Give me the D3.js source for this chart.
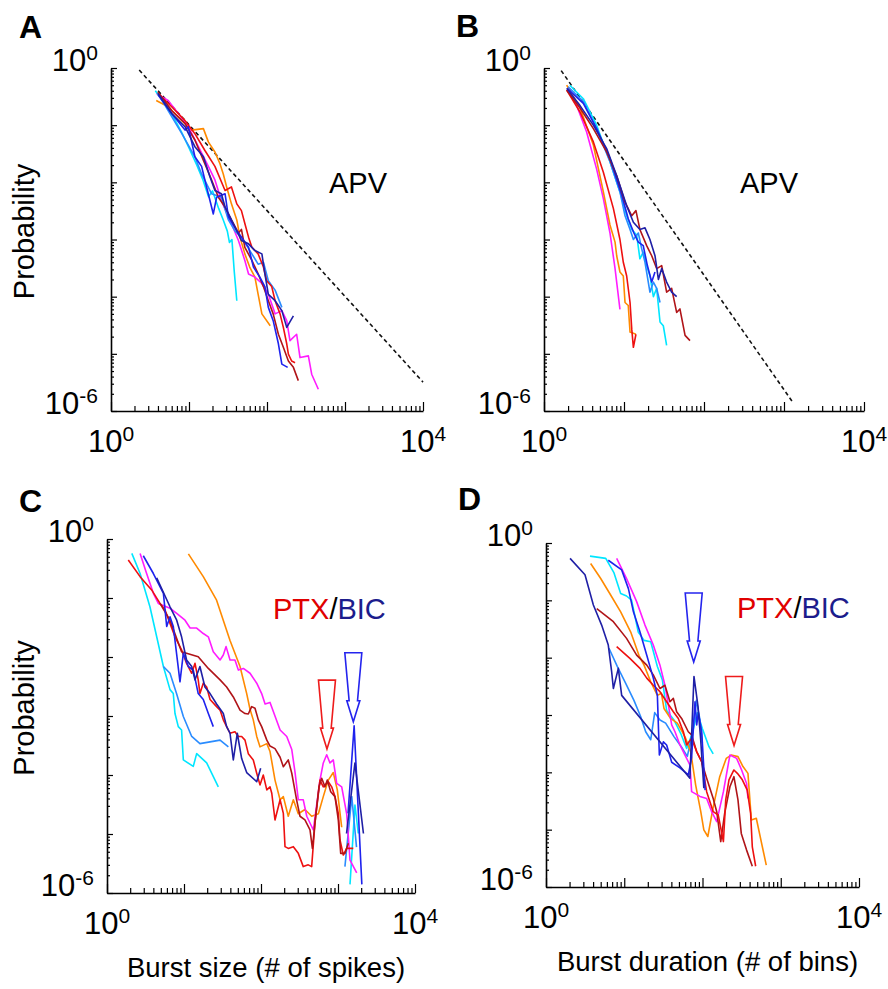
<!DOCTYPE html>
<html>
<head>
<meta charset="utf-8">
<script src="https://cdn.jsdelivr.net/npm/d3@7/dist/d3.min.js"></script>
<style>
body { margin: 0; background: #fff; }
text { font-family: "Liberation Sans", Arial, Helvetica, sans-serif; fill: #000; }
</style>
</head>
<body>
<script>
// ---- data: [value, probability] ----

// A: burst size, APV
var sizeApvCyan = [[3.7,0.40],[4.9,0.24],[6.3,0.14],[7.9,0.079],[10,0.040],[12.6,0.020],[15.1,0.011],[17.8,0.0056],[20,0.0071],[24,0.0035],[27.5,0.0022],[31,0.0014],[33,0.00089],[35.5,0.0010],[38,0.00028],[41,0.000085]];
var sizeApvLightBlue = [[4.0,0.36],[5.4,0.18],[8.1,0.071],[11.9,0.028],[14.5,0.014],[19.5,0.0063],[26,0.0055],[32,0.0022],[39,0.0014],[47,0.0011],[64,0.00056],[77,0.00037],[90,0.0004],[104,0.00019],[127,0.00013],[155,0.000065]];
var sizeApvBlue = [[4.0,0.34],[6.0,0.16],[8.9,0.082],[9.8,0.094],[11.9,0.028],[14.5,0.019],[16.8,0.0083],[20.5,0.0028],[22.6,0.0055],[29,0.0063],[32,0.0025],[39,0.0016],[47,0.0011],[58,0.00073],[67,0.00033],[81,0.00022],[94,0.00015],[104,0.000065],[120,0.000038],[140,0.000015],[155,0.0000066],[184,0.0000058]];
var sizeApvNavy = [[4.0,0.36],[6.0,0.16],[8.9,0.094],[11.9,0.042],[15.3,0.028],[18.6,0.0124],[21.5,0.0072],[26,0.0063],[29,0.0037],[35,0.0022],[47,0.00096],[58,0.00084],[70,0.00064],[86,0.00056],[94,0.00025],[104,0.00011],[127,0.000085],[155,0.000057],[179,0.000029],[218,0.000046]];
var sizeApvMagenta = [[3.8,0.36],[5.4,0.27],[7.3,0.16],[9.8,0.094],[13.2,0.042],[17.7,0.019],[21.5,0.011],[26,0.0048],[35,0.0019],[43,0.00096],[52,0.00043],[58,0.00025],[70,0.00022],[86,0.00017],[104,0.00011],[127,0.00005],[155,0.000057],[179,0.000038],[197,0.000017],[240,0.000022],[265,0.0000086],[339,0.0000092],[374,0.0000044],[455,0.0000024]];
var sizeApvRed = [[4.0,0.36],[6.0,0.21],[8.9,0.12],[11.9,0.071],[16,0.036],[21.5,0.019],[29,0.0072],[35,0.0083],[41,0.0042],[47,0.0032],[52,0.0019],[58,0.0011],[64,0.00073],[77,0.00056],[90,0.00033],[99,0.00019],[115,0.00015],[127,0.000085],[147,0.00005],[162,0.000029],[179,0.000015],[188,0.0000099],[207,0.0000075],[229,0.000007]];
var sizeApvDarkRed = [[4.0,0.38],[6.0,0.18],[8.9,0.107],[11.9,0.055],[16,0.021],[19.5,0.011],[23.8,0.0055],[29,0.0037],[35,0.0022],[43,0.0013],[47,0.0015],[52,0.00073],[64,0.00043],[77,0.00025],[90,0.00015],[104,0.000085],[120,0.00005],[140,0.000022],[162,0.000013],[188,0.0000075],[218,0.0000058],[252,0.0000034]];
var sizeApvOrange = [[3.8,0.27],[5.4,0.21],[8.1,0.12],[10.8,0.082],[15.3,0.087],[17.7,0.051],[21.5,0.034],[25,0.021],[27.5,0.014],[30.4,0.0083],[35,0.0042],[41,0.0022],[45,0.0011],[52,0.00056],[60,0.00033],[70,0.00022],[77,0.00011],[86,0.00005],[110,0.000031]];
var sizeApvSlope = [[2.3,0.92],[10000,0.0000032]];

// B: burst duration, APV
var durApvMagenta = [[2.0,0.47],[2.56,0.22],[3.41,0.076],[4.55,0.017],[5.52,0.0052],[6.68,0.0013],[7.73,0.00031],[8.9,0.00006]];
var durApvOrange = [[1.92,0.50],[2.82,0.20],[4.14,0.045],[5.52,0.0068],[6.68,0.0018],[7.73,0.0009],[8.1,0.00052],[8.9,0.00027],[9.8,0.00023],[10.3,0.000079],[11.3,0.00007],[11.9,0.000024],[14.1,0.000022]];
var durApvRed = [[1.92,0.41],[2.82,0.17],[4.14,0.051],[5.52,0.015],[7.36,0.0035],[8.9,0.001],[9.8,0.0004],[10.8,0.00023],[11.9,0.000079],[12.5,0.000027],[13.1,0.000013],[14.1,0.000022]];
var durApvCyan = [[2.1,0.50],[3.1,0.29],[4.55,0.10],[6.68,0.023],[8.9,0.0068],[10.8,0.0026],[12.5,0.0015],[14.4,0.0012],[15.8,0.00046],[17.4,0.0006],[19.2,0.00035],[21.1,0.00023],[23.3,0.0001],[25.6,0.00014],[28.2,0.000036],[31,0.000031],[34.1,0.000014]];
var durApvLightBlue = [[2.0,0.47],[3.1,0.26],[4.55,0.087],[6.68,0.023],[8.9,0.0068],[10.3,0.0026],[11.9,0.0015],[13.1,0.001],[15.1,0.0013],[16.6,0.0007],[18.3,0.0004],[21.1,0.00012],[23.3,0.00018],[25.6,0.00014],[28.2,0.000079]];
var durApvBlue = [[1.95,0.44],[3.1,0.24],[4.55,0.087],[6.68,0.026],[9.4,0.0059],[11.3,0.0023],[13.3,0.0013],[15.1,0.0009],[17.4,0.00078],[19.6,0.00035],[22.2,0.00018],[24.4,0.00027]];
var durApvNavy = [[1.92,0.44],[2.82,0.22],[4.14,0.10],[6.07,0.039],[8.1,0.013],[10.8,0.0039],[13.1,0.002],[15.8,0.0015],[18.3,0.0016],[21.1,0.001],[24.4,0.00052],[26.9,0.0002],[29.6,0.00031],[34.1,0.00018],[39.4,0.00012],[45.5,0.0001]];
var durApvDarkRed = [[1.92,0.41],[2.82,0.20],[4.14,0.087],[6.07,0.034],[8.1,0.013],[10.3,0.0045],[12.5,0.0026],[14.1,0.0032],[15.8,0.0015],[19.2,0.00078],[22.2,0.00052],[25.6,0.00031],[29.6,0.00035],[34.1,0.00012],[39.4,0.00014],[45.5,0.000053],[50,0.000061],[58,0.000021],[66.8,0.000017]];
var durApvSlope = [[1.64,0.9],[1310,0.00000137]];

// C: burst size, PTX/BIC (peak arrays are the separate pieces near the arrows)
var sizePtxCyan = [[2.1,0.57],[2.69,0.26],[3.61,0.071],[4.42,0.022],[5.4,0.0069],[6.58,0.0028],[7.26,0.0024],[7.64,0.0011],[8.43,0.00066],[9.3,0.00058],[9.8,0.00018],[13.2,0.00014],[14.6,0.00023],[19.7,0.00016],[27.9,0.000063]];
var sizePtxCyanPeak = [[1432,0.0000014],[1660,0.000031],[1836,0.0000102]];
var sizePtxLightBlue = [[5.4,0.0069],[6.58,0.0053],[8.0,0.0024],[9.8,0.00098],[12.6,0.00045],[16.1,0.00034],[29.4,0.00039],[37.7,0.0003]];
var sizePtxLightBluePeak = [[1230,0.0000028],[1510,0.000043],[1740,0.000006]];
var sizePtxBlue = [[2.96,0.52],[4.0,0.26],[5.4,0.12],[5.96,0.033],[6.58,0.048],[7.26,0.033],[8.87,0.0038],[9.8,0.0115],[11.4,0.0069],[13.2,0.006],[15.3,0.0024],[17.8,0.0019],[20.7,0.0011],[24,0.00066]];
var sizePtxBluePeak = [[1350,0.0000224],[1620,0.00068],[2040,0.0000014]];
var sizePtxNavy = [[4.42,0.22],[6.58,0.071],[8.04,0.042],[9.3,0.022],[10.8,0.0089],[12.6,0.0069],[13.9,0.0041],[16.1,0.0069],[18.7,0.0031],[21.8,0.0024],[26.5,0.0016],[32.4,0.0011],[35.8,0.00066],[39.6,0.00051],[43.7,0.00018],[49.2,0.00051],[56.1,0.00019],[65.2,0.00011],[88,0.000077],[99,0.00013]];
var sizePtxNavyPeak = [[1290,0.0000102],[1660,0.00016],[2140,0.0000102]];
var sizePtxMagenta = [[2.69,0.57],[3.27,0.26],[4.0,0.12],[4.64,0.081],[6.58,0.067],[8.04,0.055],[10.3,0.042],[12,0.031],[14.6,0.031],[17.8,0.025],[20.7,0.022],[24,0.0123],[29.4,0.0089],[32.4,0.0108],[35.2,0.015],[39.6,0.0089],[45.9,0.0089],[50.8,0.006],[59,0.0064],[72,0.0053],[88,0.0036],[102,0.0024],[113,0.0016],[131,0.0017],[177,0.00058],[216,0.00045],[251,0.00027],[277,0.00011],[305,0.000038],[354,0.000038],[393,0.00002],[478,0.0000117],[583,0.000082],[644,0.00016],[713,0.00022],[787,0.00016],[869,0.00018],[962,0.000072],[1117,0.000063],[1297,0.000022],[1432,0.0000036],[1750,0.0000022]];
var sizePtxOrange = [[11.4,0.56],[17.8,0.23],[26.5,0.092],[39.6,0.019],[53.4,0.0069],[65.2,0.0024],[72,0.0013],[79.4,0.00086],[88,0.00045],[97,0.0003],[119,0.00034],[131,0.00025],[152,0.000082],[177,0.000038],[195,0.000043],[226,0.00002],[263,0.000038],[305,0.000022],[372,0.000026],[455,0.00002],[556,0.000022],[644,0.000043],[748,0.000082],[869,0.00011],[979,0.000056],[1117,0.000013]];
var sizePtxRed = [[1.89,0.44],[2.69,0.23],[3.8,0.137],[4.88,0.081],[5.66,0.063],[6.58,0.037],[7.64,0.022],[9.3,0.0132],[10.8,0.0078],[12.6,0.0053],[13.9,0.0078],[15.3,0.0041],[16.1,0.0024],[17.8,0.0036],[19.7,0.0031],[21.8,0.0019],[26.5,0.00144],[29.4,0.00126],[32.4,0.00086],[35.8,0.00066],[39.6,0.00051],[45.9,0.00054],[50.8,0.00045],[56.1,0.00045],[62,0.00039],[68.4,0.00023],[79.4,0.00018],[88,0.000107],[97,0.000068],[107,0.0001],[119,0.000056],[131,0.000063],[138,0.000049],[152,0.0000173],[177,0.000038],[195,0.0000224],[205,0.0000061],[226,0.0000057],[263,0.0000061],[305,0.0000047],[354,0.0000028],[411,0.000003],[455,0.0000028],[502,0.0000152],[583,0.000082],[644,0.000063],[748,0.000077],[828,0.000063],[914,0.000043],[1009,0.0000224],[1062,0.0000079],[1172,0.0000044],[1297,0.0000057],[1581,0.0000057]];
var sizePtxDarkRed = [[4.88,0.081],[6.58,0.042],[9.3,0.0123],[15.3,0.0101],[20.7,0.0064],[29.4,0.0041],[35.8,0.0031],[43.7,0.0021],[53.4,0.00126],[62,0.0011],[68.4,0.00108],[75.7,0.00144],[83.6,0.00135],[92.3,0.00086],[102,0.00066],[119,0.00039],[131,0.00031],[152,0.00028],[177,0.0002],[195,0.000138],[226,0.00018],[251,0.000107],[290,0.000038],[321,0.00002],[372,0.0000173],[433,0.0000117],[465,0.0000057],[513,0.00002],[566,0.000063],[614,0.000088],[678,0.000063],[726,0.000082],[804,0.000052],[914,0.000043],[1009,0.0000173],[1084,0.0000047],[1233,0.0000047],[1362,0.000007]];

// D: burst duration, PTX/BIC
var durPtxNavy = [[2.03,0.54],[3.15,0.28],[4.03,0.083],[5.14,0.037],[6.25,0.0166],[6.9,0.0057],[7.26,0.0029],[8.4,0.0065],[9.27,0.0022],[69,0.000079],[77.8,0.0047],[87.7,0.0014],[94.8,0.00037],[104,0.000053]];
var durPtxBlue = [[6.25,0.50],[9.27,0.34],[11.3,0.16],[13.1,0.063],[15.9,0.028],[19.4,0.011],[23.5,0.0044],[26.5,0.0022],[28.1,0.0002],[31.6,0.00034],[34.8,0.0003],[40.4,0.00015],[51.5,0.00012],[65.9,0.00009],[72.6,0.00018],[80.2,0.0017],[84.3,0.00067],[88.5,0.0011],[97.7,0.00051],[108,0.000049]];
var durPtxLightBlue = [[6.38,0.0146],[8.17,0.007],[10.4,0.0036],[13.3,0.0018],[16.2,0.00094],[18.8,0.00051],[21.8,0.00037],[24.5,0.0011],[28.6,0.00082],[33.8,0.00072],[43.2,0.00042],[53.6,0.00028],[64,0.00019],[74.1,0.00048],[83.4,0.0018],[92.9,0.00082],[99.5,0.00032]];
var durPtxCyan = [[3.65,0.59],[5.8,0.54],[7.4,0.30],[9.0,0.132],[10.7,0.119],[12.4,0.101],[15.1,0.028],[17.9,0.02],[21.8,0.019],[26.5,0.007],[30.7,0.0041],[34.8,0.0012],[43.2,0.00082],[52.6,0.00048],[62.7,0.00026],[74.1,0.00048],[85.9,0.0011],[99.5,0.00058],[121,0.00028],[137,0.00021]];
var durPtxMagenta = [[8.0,0.54],[10.7,0.24],[14.4,0.095],[18.4,0.037],[23.5,0.0166],[28.6,0.0074],[33.1,0.0033],[36.6,0.0015],[40.4,0.00067],[44.5,0.00051],[51.5,0.0003],[59.7,0.0002],[69.2,0.000134],[72.6,0.000046],[92.9,0.000038],[113,0.000035],[131,0.0000206],[152,0.0000138],[185,0.000046],[224,0.0002],[273,0.000175],[316,0.00011],[366,0.000064],[381,0.000035]];
var durPtxOrange = [[3.72,0.44],[5.0,0.24],[6.7,0.124],[9.0,0.063],[12.1,0.028],[15.4,0.011],[17.9,0.0074],[21.8,0.0038],[26.5,0.0022],[29.8,0.0024],[32.2,0.0013],[39.2,0.00087],[47.6,0.00072],[55.2,0.00051],[61,0.00039],[70.6,0.00023],[81.8,0.00006],[94.8,0.000021],[104,0.0000099],[117,0.0000076],[136,0.0000235],[166,0.000084],[201,0.000175],[233,0.0002],[284,0.000188],[329,0.000126],[381,0.000096],[421,0.0000148],[487,0.0000158],[653,0.0000024]];
var durPtxDarkRed = [[4.45,0.072],[7.26,0.0425],[10.7,0.0217],[14.4,0.0111],[19.4,0.0074],[23.5,0.005],[28.6,0.0029],[33.1,0.0033],[38.4,0.0017],[42.4,0.00195],[46.7,0.00114],[54.1,0.00087],[65.8,0.00051],[72.6,0.00045],[84.1,0.00023],[97.5,0.000153],[113,0.000079],[137,0.000035],[152,0.0000206],[171,0.0000062],[192,0.0000193],[224,0.000056],[252,0.000084],[284,0.000033],[313,0.0000086],[366,0.0000044],[433,0.0000023]];
var durPtxRed = [[8.0,0.0156],[11.8,0.0097],[15.9,0.0065],[19.4,0.0044],[23.5,0.0033],[28.6,0.00255],[34.8,0.0017],[42.4,0.00114],[49.1,0.00087],[56.9,0.00051],[62.7,0.0003],[72.6,0.00039],[84.3,0.00023],[97.7,0.000153],[113,0.000046],[137,0.0000206],[159,0.000018],[185,0.0000062],[198,0.000033],[218,0.000074],[252,0.00011],[279,0.000096],[323,0.000074],[373,0.000049],[412,0.0000193],[433,0.000005],[478,0.0000023]];

// arrow tips [value, probability]
var sizePtxArrows = [[719,0.000275,"red"],[1581,0.0008,"blue"]];
var durPtxArrows = [[77.2,0.0084,"blue"],[253,0.000294,"red"]];

var colour = {
    orange: "#ff8a00", red: "#ee1010", darkRed: "#b01418", magenta: "#ff1cff",
    cyan: "#00e6ff", lightBlue: "#2a8cff", blue: "#1e22ee", navy: "#1f1fa6"
};

var svg = d3.select("body").append("svg")
    .attr("width", 888)
    .attr("height", 989);

var panels = [
    { letter: "A", lx: 19, ly: 38, x0: 111, x1: 423, yTop: 68, yBot: 411, ylabel: true,
      slope: sizeApvSlope, note: "apv", nx: 329, ny: 193, arrows: [],
      lines: [[sizeApvOrange, "orange"], [sizeApvMagenta, "magenta"], [sizeApvCyan, "cyan"], [sizeApvLightBlue, "lightBlue"],
              [sizeApvRed, "red"], [sizeApvDarkRed, "darkRed"], [sizeApvBlue, "blue"], [sizeApvNavy, "navy"]] },
    { letter: "B", lx: 456, ly: 37, x0: 544, x1: 864, yTop: 68, yBot: 411, ylabel: false,
      slope: durApvSlope, note: "apv", nx: 740, ny: 193, arrows: [],
      lines: [[durApvMagenta, "magenta"], [durApvOrange, "orange"], [durApvRed, "red"], [durApvCyan, "cyan"],
              [durApvLightBlue, "lightBlue"], [durApvBlue, "blue"], [durApvDarkRed, "darkRed"], [durApvNavy, "navy"]] },
    { letter: "C", lx: 19, ly: 512, x0: 107, x1: 415, yTop: 539, yBot: 893, ylabel: true,
      slope: null, note: "ptx", nx: 273, ny: 619, arrows: sizePtxArrows, xlabel: "Burst size (# of spikes)",
      lines: [[sizePtxCyan, "cyan"], [sizePtxCyanPeak, "cyan"], [sizePtxLightBlue, "lightBlue"], [sizePtxLightBluePeak, "lightBlue"],
              [sizePtxOrange, "orange"], [sizePtxMagenta, "magenta"], [sizePtxRed, "red"], [sizePtxDarkRed, "darkRed"],
              [sizePtxBlue, "blue"], [sizePtxBluePeak, "blue"], [sizePtxNavy, "navy"], [sizePtxNavyPeak, "navy"]] },
    { letter: "D", lx: 458, ly: 510, x0: 546, x1: 859, yTop: 543, yBot: 887, ylabel: false,
      slope: null, note: "ptx", nx: 737, ny: 618, arrows: durPtxArrows, xlabel: "Burst duration (# of bins)",
      lines: [[durPtxCyan, "cyan"], [durPtxLightBlue, "lightBlue"], [durPtxOrange, "orange"], [durPtxMagenta, "magenta"],
              [durPtxDarkRed, "darkRed"], [durPtxRed, "red"], [durPtxBlue, "blue"], [durPtxNavy, "navy"]] }
];

function powLabel(g, x, y, exp, anchor) {
    var t = g.append("text")
        .attr("x", x)
        .attr("y", y)
        .attr("text-anchor", anchor)
        .style("font-size", "31px");
    t.append("tspan").text("10");
    t.append("tspan").attr("dy", -11).style("font-size", "21px").text(exp);
}

panels.forEach(function(p) {
    var g = svg.append("g");

    var x = d3.scaleLog().domain([1, 1e4]).range([p.x0, p.x1]);
    var y = d3.scaleLog().domain([1e-6, 1]).range([p.yBot, p.yTop]);

    var isMajor = function(v) { return Math.abs(Math.log10(v) - Math.round(Math.log10(v))) < 1e-6; };
    var xt = x.ticks(), yt = y.ticks();

    // minor ticks first, then major ticks with the axis line
    g.append("g").attr("transform", "translate(0," + p.yBot + ")")
        .call(d3.axisBottom(x).tickValues(xt.filter(function(v) { return !isMajor(v); })).tickSize(-5).tickFormat(""))
        .call(function(a) { a.select(".domain").remove(); });
    g.append("g").attr("transform", "translate(0," + p.yBot + ")")
        .call(d3.axisBottom(x).tickValues(xt.filter(isMajor)).tickSizeInner(-9).tickSizeOuter(0).tickFormat(""));
    g.append("g").attr("transform", "translate(" + p.x0 + ",0)")
        .call(d3.axisLeft(y).tickValues(yt.filter(function(v) { return !isMajor(v); })).tickSize(-3).tickFormat(""))
        .call(function(a) { a.select(".domain").remove(); });
    g.append("g").attr("transform", "translate(" + p.x0 + ",0)")
        .call(d3.axisLeft(y).tickValues(yt.filter(isMajor)).tickSizeInner(-6).tickSizeOuter(0).tickFormat(""));

    g.selectAll(".domain").attr("stroke", "#000").attr("stroke-width", 1.6);
    g.selectAll(".tick line").attr("stroke", "#000").attr("stroke-width", 1.2);

    // tick labels
    powLabel(g, p.x0 - 13, y(1) + 3, "0", "end");
    powLabel(g, p.x0 - 13, y(1e-6) + 3, "-6", "end");
    powLabel(g, x(1), p.yBot + 41, "0", "middle");
    powLabel(g, x(1e4), p.yBot + 41, "4", "middle");

    // panel letter
    g.append("text").attr("x", p.lx).attr("y", p.ly)
        .style("font-size", "32px").style("font-weight", "bold").text(p.letter);

    if (p.ylabel) {
        g.append("text")
            .attr("transform", "translate(34," + ((p.yTop + p.yBot) / 2 - 8) + ") rotate(-90)")
            .attr("text-anchor", "middle")
            .style("font-size", "29px")
            .text("Probability");
    }
    if (p.xlabel) {
        g.append("text").attr("x", (p.x0 + p.x1) / 2 + 5).attr("y", p.yBot + 84)
            .attr("text-anchor", "middle").style("font-size", "27.5px").text(p.xlabel);
    }

    var line = d3.line()
        .x(function(d) { return x(d[0]); })
        .y(function(d) { return y(d[1]); });

    if (p.slope) {
        g.append("path").datum(p.slope)
            .attr("d", line)
            .attr("fill", "none")
            .attr("stroke", "#111")
            .attr("stroke-width", 1.6)
            .attr("stroke-dasharray", "4,3");
    }

    g.selectAll(".series")
        .data(p.lines)
        .enter()
        .append("path")
        .attr("class", "series")
        .attr("d", function(d) { return line(d[0]); })
        .attr("fill", "none")
        .attr("stroke", function(d) { return colour[d[1]]; })
        .attr("stroke-width", 1.6)
        .attr("stroke-linejoin", "round");

    // arrows pointing at the secondary peaks
    g.selectAll(".arrow")
        .data(p.arrows)
        .enter()
        .append("path")
        .attr("class", "arrow")
        .attr("d", "M-8.5,-69 L8.5,-69 L4.2,-21 L6.5,-21 L0,0 L-6.5,-21 L-4.2,-21 Z")
        .attr("transform", function(d) { return "translate(" + x(d[0]) + "," + y(d[1]) + ")"; })
        .attr("fill", "none")
        .attr("stroke", function(d) { return d[2] == "red" ? "#ee1c1c" : "#2424ee"; })
        .attr("stroke-width", 1.6);

    var note = g.append("text").attr("x", p.nx).attr("y", p.ny).style("font-size", "29px");
    if (p.note == "apv") {
        note.text("APV");
    } else {
        note.append("tspan").style("fill", "#e00000").text("PTX");
        note.append("tspan").style("fill", "#000").text("/");
        note.append("tspan").style("fill", "#1c1c8c").text("BIC");
    }
});
</script>
</body>
</html>
